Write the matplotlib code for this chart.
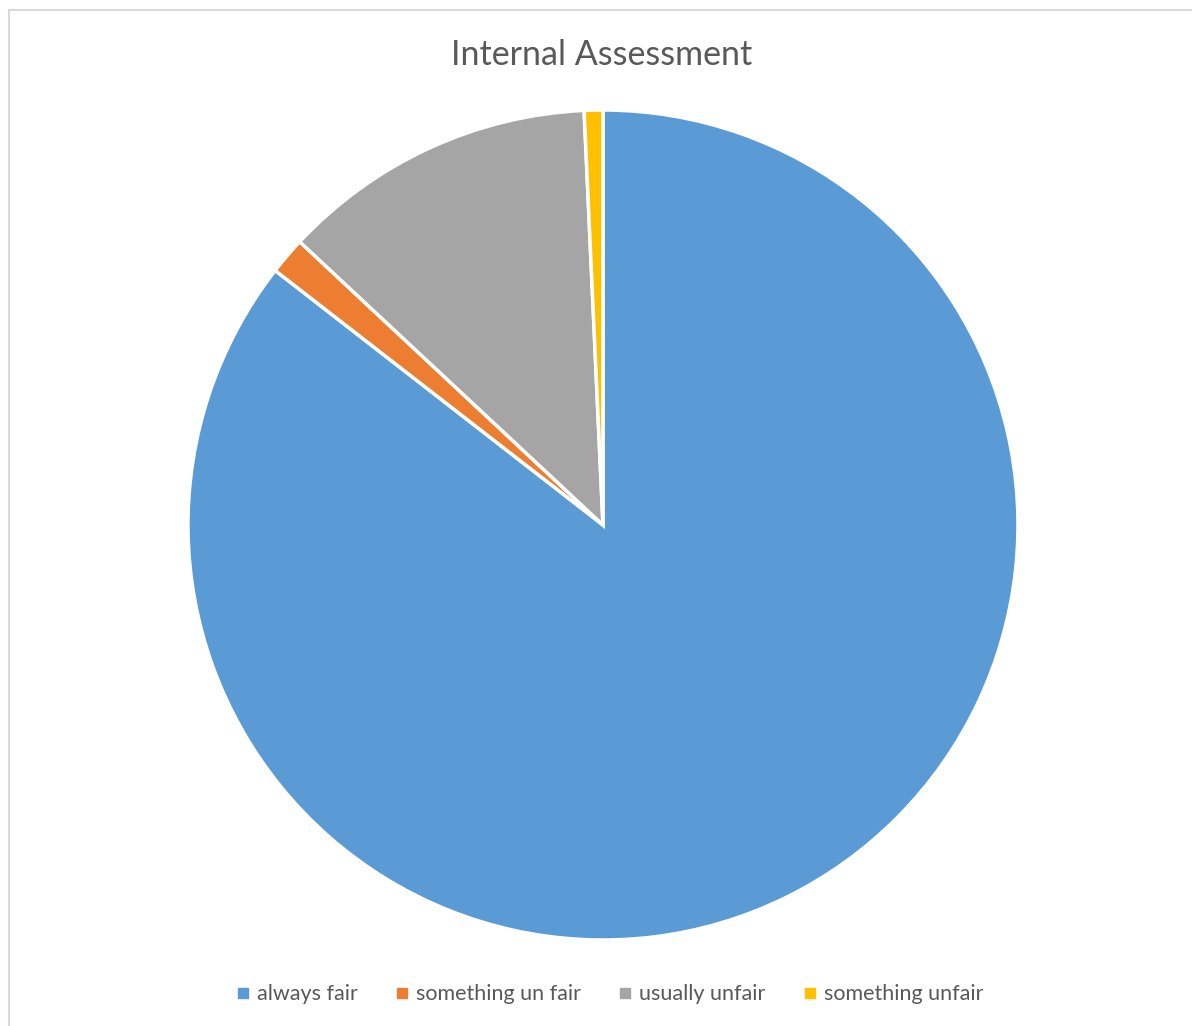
import matplotlib.pyplot as plt
from matplotlib.lines import Line2D

labels = ['always fair', 'something un fair', 'usually unfair', 'something unfair']
counts = [118, 2, 17, 1]
colors = ['#5B9BD5', '#ED7D31', '#A5A5A5', '#FFC000']

plt.rcParams['font.family'] = ['Lato', 'DejaVu Sans']

fig = plt.figure(figsize=(11.92, 10.26), dpi=100)
ax = fig.add_axes([0.1577, 0.0838, 0.6963, 0.809])
ax.pie(counts, colors=colors, startangle=90, counterclock=False,
       wedgeprops=dict(edgecolor='white', linewidth=2.5))
ax.set_xlim(-1.0, 1.0)
ax.set_ylim(-1.0, 1.0)
ax.set_aspect('equal')

fig.text(0.505, 0.946, 'Internal Assessment', ha='center', va='center',
         fontsize=24.5, color='#595959')

handles = [Line2D([], [], marker='s', linestyle='none', markersize=7,
                  markerfacecolor=c, markeredgecolor=c) for c in colors]
fig.legend(handles, labels, loc='center', bbox_to_anchor=(0.51, 0.031),
           ncol=4, frameon=False, fontsize=15.5, labelcolor='#595959',
           handletextpad=0.15, columnspacing=1.55, handlelength=1.0)

# chart area border (left and top visible)
fig.add_artist(Line2D([0.0075, 0.0075], [0, 0.990], color='#D9D9D9', linewidth=1.5,
                      transform=fig.transFigure))
fig.add_artist(Line2D([0.0075, 1], [0.990, 0.990], color='#D9D9D9', linewidth=1.5,
                      transform=fig.transFigure))

fig.savefig('out.png', dpi=100)
